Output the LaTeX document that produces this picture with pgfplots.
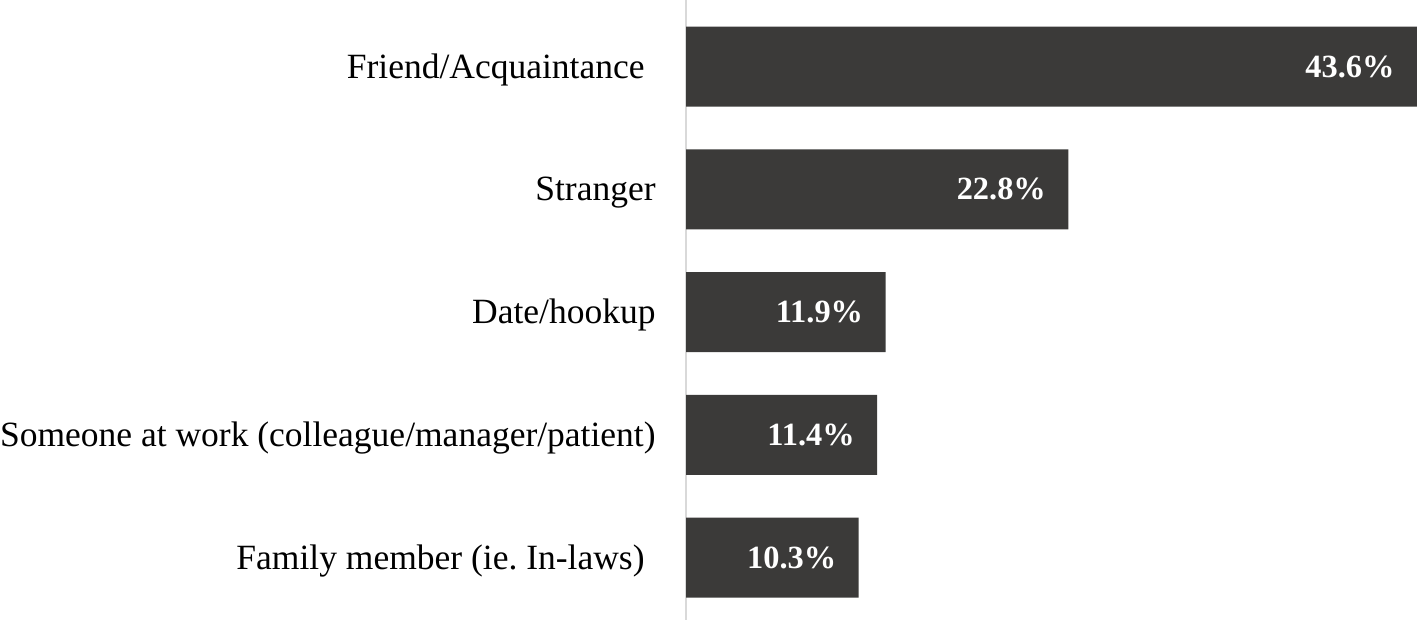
\documentclass[border=0pt]{standalone}
\usepackage{pgfplots}
\pgfplotsset{compat=1.18}
\usepackage{fontspec}
\setmainfont{Liberation Serif}
\frenchspacing
\definecolor{barc}{RGB}{59,58,57}
\definecolor{axc}{RGB}{217,217,217}
\begin{document}
\begin{tikzpicture}
\useasboundingbox (0,0) rectangle (712pt,310pt);
\begin{axis}[
  at={(343pt,0pt)}, anchor=south west,
  scale only axis, width=369pt, height=310pt,
  xbar, bar width=40pt, bar shift=0pt,
  xmin=0, xmax=44.02,
  ymin=-0.542, ymax=4.509, y dir=reverse,
  axis x line=none,
  axis y line*=left,
  y axis line style={color=axc, line width=1pt, -},
  ytick={0,1,2,3,4},
  yticklabels={{Friend/Acquaintance\kern5.5pt},{Stranger},{Date/hookup},{Someone at work (colleague/manager/patient)},{Family member (ie.\ In-laws)\kern5.5pt}},
  major tick length=0pt,
  y tick label style={anchor=east, inner sep=0pt, xshift=-15pt, yshift=-1.5pt, font=\fontsize{17.75}{20}\selectfont},
  /pgf/number format/assume math mode=true,
  nodes near coords={\pgfmathprintnumber[fixed,precision=1,fixed zerofill]{\pgfplotspointmeta}\%},
  nodes near coords style={anchor=east, inner sep=0pt, xshift=-11pt, text=white, font=\fontsize{16.2}{18}\selectfont\bfseries},
  point meta=explicit,
  clip=false,
]
\addplot[fill=barc, draw=none] coordinates {
  (43.6,0) [43.6]
  (22.8,1) [22.8]
  (11.9,2) [11.9]
  (11.4,3) [11.4]
  (10.3,4) [10.3]
};
\end{axis}
\end{tikzpicture}
\end{document}
